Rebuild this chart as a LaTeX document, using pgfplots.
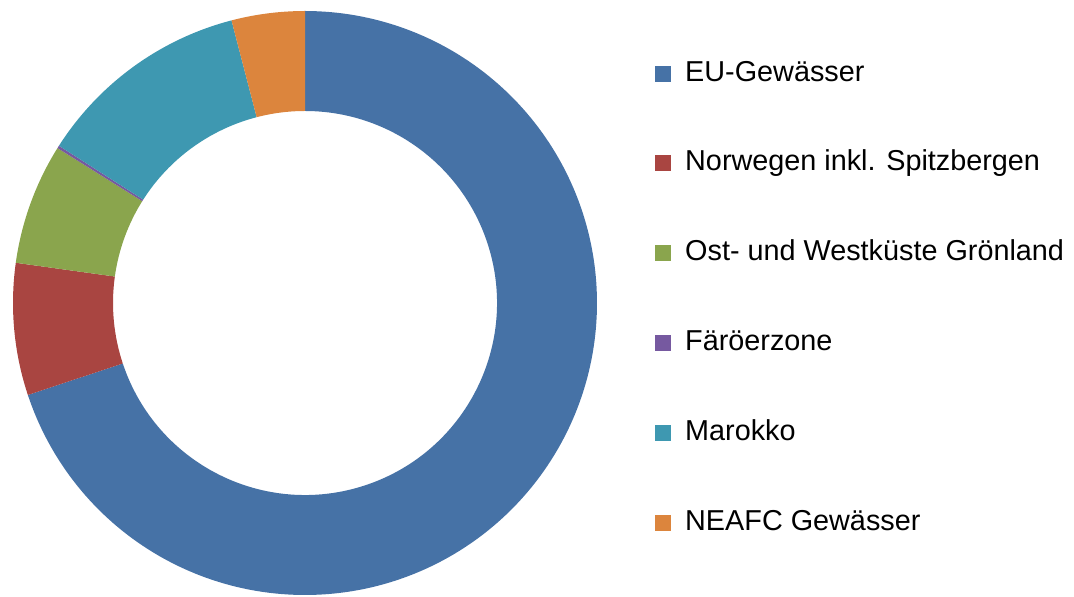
\documentclass[border=0pt]{standalone}
\usepackage{pgfplots}
\pgfplotsset{compat=1.18}
\usepackage{fontspec}
\setmainfont{Liberation Sans}
\definecolor{cEU}{HTML}{4672A6}
\definecolor{cNO}{HTML}{A94541}
\definecolor{cGR}{HTML}{8AA54D}
\definecolor{cFA}{HTML}{7659A0}
\definecolor{cMA}{HTML}{3E98B1}
\definecolor{cNE}{HTML}{DC853D}
% shares in percent
\def\vEU{69.9}
\def\vNO{7.3}
\def\vGR{6.7}
\def\vFA{0.15}
\def\vMA{11.9}
\def\vNE{4.05}
\pgfmathsetmacro\aA{0}
\pgfmathsetmacro\aB{\aA+3.6*\vEU}
\pgfmathsetmacro\aC{\aB+3.6*\vNO}
\pgfmathsetmacro\aD{\aC+3.6*\vGR}
\pgfmathsetmacro\aE{\aD+3.6*\vFA}
\pgfmathsetmacro\aF{\aE+3.6*\vMA}
\pgfmathsetmacro\aG{\aF+3.6*\vNE}
\def\cx{305}\def\cy{294}\def\Ro{292}\def\Ri{192}
\newcommand\seg[4]{%
  \addplot[fill=#3, draw=none, variable=\t, domain=#1:#2, samples=200]
  ({\cx+\Ro*sin(\t)}, {\cy+\Ro*cos(\t)})
  -- ([shift={(90-#2:\Ri bp)}]axis cs:\cx,\cy)
  arc[start angle=90-#2, end angle=90-#1, radius=\Ri bp] -- cycle;
  \addlegendentry{#4}}
\begin{document}
\begin{tikzpicture}
\begin{axis}[
  width=1074bp, height=597bp, scale only axis,
  xmin=0, xmax=1074, ymin=0, ymax=597,
  hide axis, clip=false,
  legend style={at={(axis cs:652,539)}, anchor=north west, draw=none, fill=none,
    font=\fontsize{28.8bp}{34bp}\selectfont, row sep=62.8bp,
    nodes={inner sep=0pt, text height=21bp, text depth=6bp},
    column sep=14bp, cells={anchor=west}},
  legend image code/.code={\fill[#1] (0bp,-8bp) rectangle (16bp,8bp);},
]
\path (axis cs:0,0) rectangle (axis cs:1074,597);
\seg{\aA}{\aB}{cEU}{EU-Gewässer}
\seg{\aB}{\aC}{cNO}{Norwegen inkl. Spitzbergen}
\seg{\aC}{\aD}{cGR}{Ost- und Westküste Grönland}
\seg{\aD}{\aE}{cFA}{Färöerzone}
\seg{\aE}{\aF}{cMA}{Marokko}
\seg{\aF}{\aG}{cNE}{NEAFC Gewässer}
\end{axis}
\end{tikzpicture}
\end{document}
